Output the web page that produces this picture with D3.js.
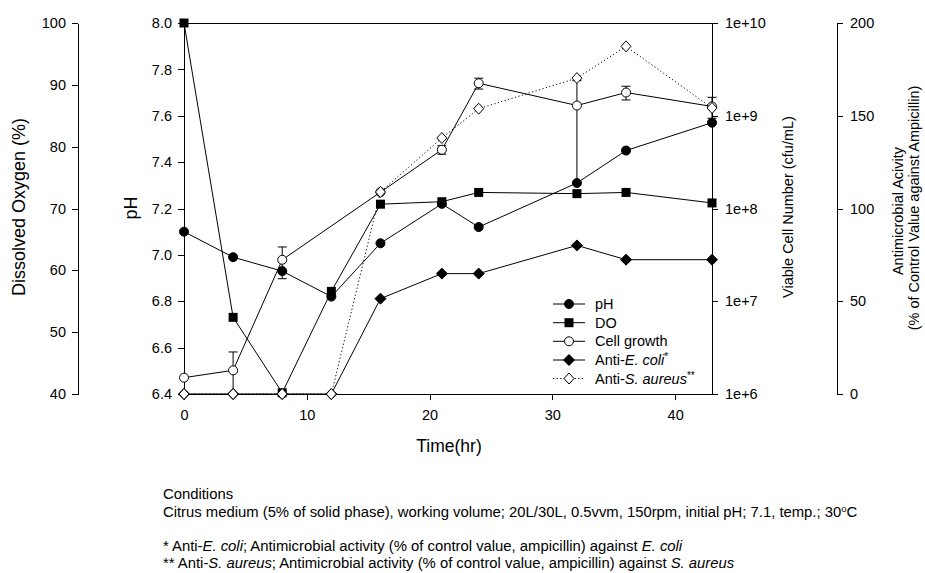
<!DOCTYPE html>
<html>
<head>
<meta charset="utf-8">
<script src="https://cdn.jsdelivr.net/npm/d3@7"></script>
<style>
  html, body { margin: 0; padding: 0; background: #fff; }
  svg { display: block; font-family: Arial, "Liberation Sans", sans-serif; }
  .axis path, .axis line { stroke: #000; stroke-width: 1; shape-rendering: crispEdges; }
  .axis text { fill: #000; font-size: 14.5px; }
</style>
</head>
<body>
<svg id="chart" width="925" height="573"></svg>
<script>
// ---------------- DATA ----------------
const time = [0, 4, 8, 12, 16, 21, 24, 32, 36, 43];
const pH = [7.10, 6.99, 6.93, 6.82, 7.05, 7.22, 7.12, 7.31, 7.45, 7.57];
const dissolvedOxygen = [100, 52.4, 40.2, 56.6, 70.7, 71.1, 72.6, 72.4, 72.6, 70.9];
const cellTime = [0, 4, 8, 16, 21, 24, 32, 36, 43];
const cellGrowth = [1.5e6, 1.8e6, 2.8e7, 1.5e8, 4.3e8, 2.24e9, 1.29e9, 1.78e9, 1.26e9];
const cellGrowthSD = [0, 1.04e6, 1.05e7, 0, 0.45e8, 0.3e9, 1.1e9, 0.3e9, 0.32e9];
const antiEcoli = [0, 0, 0, 0, 51.4, 64.9, 64.9, 80.1, 72.4, 72.4];
const antiSaureus = [0, 0, 0, 0, 108.9, 138.0, 153.8, 170.3, 187.4, 154.2];

const timeTicks = [0, 10, 20, 30, 40];
const doTicks = [40, 50, 60, 70, 80, 90, 100];
const phTicks = [6.4, 6.6, 6.8, 7.0, 7.2, 7.4, 7.6, 7.8, 8.0];
const cellTicks = [1e6, 1e7, 1e8, 1e9, 1e10];
const antiTicks = [0, 50, 100, 150, 200];

const legendLabels = [
  {key: "pH", parts: [["pH", false]]},
  {key: "DO", parts: [["DO", false]]},
  {key: "cell", parts: [["Cell growth", false]]},
  {key: "ecoli", parts: [["Anti-", false], ["E. coli", true]], sup: "*"},
  {key: "saureus", parts: [["Anti-", false], ["S. aureus", true]], sup: "**"}
];

// ---------------- LAYOUT ----------------
const svg = d3.select("#chart");
const plotL = 184, plotR = 712, plotT = 23, plotB = 394;

const x = d3.scaleLinear().domain([0, 43]).range([plotL, plotR]);
const yPH = d3.scaleLinear().domain([6.4, 8.0]).range([plotB, plotT]);
const yDO = d3.scaleLinear().domain([40, 100]).range([plotB, plotT]);
const yCell = d3.scaleLog().domain([1e6, 1e10]).range([plotB, plotT]);
const yAnti = d3.scaleLinear().domain([0, 200]).range([plotB, plotT]);

// frame top line
svg.append("line").attr("x1", plotL).attr("x2", plotR).attr("y1", plotT).attr("y2", plotT)
  .attr("stroke", "#000").attr("shape-rendering", "crispEdges");

// axes
svg.append("g").attr("class", "axis").attr("transform", `translate(0,${plotB})`)
  .call(d3.axisBottom(x).tickValues(timeTicks).tickSize(6).tickSizeOuter(0).tickPadding(10).tickFormat(d3.format("d")));

svg.append("g").attr("class", "axis").attr("transform", `translate(78,0)`)
  .call(d3.axisLeft(yDO).tickValues(doTicks).tickSize(6).tickSizeOuter(0).tickPadding(6).tickFormat(d3.format("d")));

svg.append("g").attr("class", "axis").attr("transform", `translate(${plotL},0)`)
  .call(d3.axisLeft(yPH).tickValues(phTicks).tickSize(6).tickSizeOuter(0).tickPadding(6).tickFormat(d3.format(".1f")));

svg.append("g").attr("class", "axis").attr("transform", `translate(${plotR},0)`)
  .call(d3.axisRight(yCell).tickValues(cellTicks).tickSize(6).tickSizeOuter(0).tickPadding(7)
    .tickFormat(d => "1e+" + Math.round(Math.log10(d))));

svg.append("g").attr("class", "axis").attr("transform", `translate(837,0)`)
  .call(d3.axisRight(yAnti).tickValues(antiTicks).tickSize(6).tickSizeOuter(0).tickPadding(7).tickFormat(d3.format("d")));

// axis titles
function vtitle(xp, yp, txt, size) {
  svg.append("text").attr("transform", `translate(${xp},${yp}) rotate(-90)`)
    .attr("text-anchor", "middle").attr("font-size", size).attr("fill", "#000").text(txt);
}
vtitle(25, 207, "Dissolved Oxygen (%)", "18px");
vtitle(137, 208, "pH", "18px");
vtitle(793, 207, "Viable Cell Number (cfu/mL)", "14.5px");
vtitle(903, 211, "Antimicrobial Acivity", "14.5px");
vtitle(919, 208, "(% of Control Value against Ampicillin)", "14.5px");
svg.append("text").attr("x", 449).attr("y", 452).attr("text-anchor", "middle")
  .attr("font-size", "17.5px").attr("fill", "#000").text("Time(hr)");

// ---------------- MARKERS ----------------
function drawMarker(g, type, cx, cy) {
  if (type === "pH") {
    g.append("circle").attr("cx", cx).attr("cy", cy).attr("r", 4.5).attr("fill", "#000").attr("stroke", "#000");
  } else if (type === "DO") {
    g.append("rect").attr("x", cx - 4.5).attr("y", cy - 4.5).attr("width", 9).attr("height", 9).attr("fill", "#000");
  } else if (type === "cell") {
    g.append("circle").attr("cx", cx).attr("cy", cy).attr("r", 4.5).attr("fill", "#fff").attr("stroke", "#000");
  } else if (type === "ecoli") {
    g.append("path").attr("d", `M${cx},${cy - 5.5}L${cx + 5.5},${cy}L${cx},${cy + 5.5}L${cx - 5.5},${cy}Z`)
      .attr("fill", "#000").attr("stroke", "#000");
  } else if (type === "saureus") {
    g.append("path").attr("d", `M${cx},${cy - 5.5}L${cx + 5},${cy}L${cx},${cy + 5.5}L${cx - 5},${cy}Z`)
      .attr("fill", "#fff").attr("stroke", "#000");
  }
}

function drawSeries(xs, ys, yScale, dash) {
  const g = svg.append("g");
  const pts = xs.map((t, i) => [x(t), yScale(ys[i])]);
  g.append("path").attr("d", d3.line()(pts)).attr("fill", "none").attr("stroke", "#000")
    .attr("stroke-width", 1).attr("stroke-dasharray", dash || null);
  return {g, pts};
}

// pH
{
  const s = drawSeries(time, pH, yPH);
  s.pts.forEach(p => drawMarker(s.g, "pH", p[0], p[1]));
}
// DO
{
  const s = drawSeries(time, dissolvedOxygen, yDO);
  s.pts.forEach(p => drawMarker(s.g, "DO", p[0], p[1]));
}
// Cell growth with error bars
{
  const s = drawSeries(cellTime, cellGrowth, yCell);
  cellTime.forEach((t, i) => {
    const sd = cellGrowthSD[i];
    if (!sd) return;
    const cx = x(t);
    const hi = cellGrowth[i] + sd, lo = cellGrowth[i] - sd;
    const yHi = yCell(Math.min(hi, 1e10));
    const loClipped = lo < 1e6;
    const yLo = loClipped ? plotB : yCell(lo);
    s.g.append("line").attr("x1", cx).attr("x2", cx).attr("y1", yHi).attr("y2", yLo).attr("stroke", "#000");
    s.g.append("line").attr("x1", cx - 4.5).attr("x2", cx + 4.5).attr("y1", yHi).attr("y2", yHi).attr("stroke", "#000");
    if (!loClipped) s.g.append("line").attr("x1", cx - 4.5).attr("x2", cx + 4.5).attr("y1", yLo).attr("y2", yLo).attr("stroke", "#000");
  });
  s.pts.forEach(p => drawMarker(s.g, "cell", p[0], p[1]));
}
// Anti-E. coli
{
  const s = drawSeries(time, antiEcoli, yAnti);
  s.pts.forEach(p => drawMarker(s.g, "ecoli", p[0], p[1]));
}
// Anti-S. aureus (dotted)
{
  const s = drawSeries(time, antiSaureus, yAnti, "1.2,2.4");
  s.pts.forEach(p => drawMarker(s.g, "saureus", p[0], p[1]));
}

// ---------------- LEGEND ----------------
const legendY = [304, 322.7, 341.3, 360, 378.5];
legendLabels.forEach((item, i) => {
  const g = svg.append("g");
  const y = legendY[i];
  g.append("line").attr("x1", 553).attr("x2", 585).attr("y1", y).attr("y2", y)
    .attr("stroke", "#000").attr("stroke-dasharray", item.key === "saureus" ? "1.2,2.4" : null);
  drawMarker(g, item.key, 569, y);
  const t = g.append("text").attr("x", 595).attr("y", y + 5).attr("font-size", "14.5px").attr("fill", "#000");
  item.parts.forEach(([txt, it]) => t.append("tspan").attr("font-style", it ? "italic" : "normal").text(txt));
  if (item.sup) t.append("tspan").attr("font-size", "10px").attr("dy", -5).text(item.sup);
});

// ---------------- NOTES ----------------
const notes = [
  {y: 499, parts: [["Conditions"]]},
  {y: 517, parts: [["Citrus medium (5% of solid phase), working volume; 20L/30L, 0.5vvm, 150rpm, initial pH; 7.1, temp.; 30"], ["o", "sup"], ["C", "unsup"]]},
  {y: 551, parts: [["* Anti-"], ["E. coli", "it"], ["; Antimicrobial activity (% of control value, ampicillin) against "], ["E. coli", "it"]]},
  {y: 568, parts: [["** Anti-"], ["S. aureus", "it"], ["; Antimicrobial activity (% of control value, ampicillin) against "], ["S. aureus", "it"]]}
];
const noteGroups = notes.map(n => {
  const g = svg.append("g");
  const t = g.append("text").attr("x", 0).attr("y", 0).attr("font-size", "15px").attr("fill", "#000");
  n.parts.forEach(([txt, style]) => {
    const ts = t.append("tspan").text(txt);
    if (style === "it") ts.attr("font-style", "italic");
    if (style === "sup") ts.attr("font-size", "9.5px").attr("dy", -5.5);
    if (style === "unsup") ts.attr("dy", 5.5);
  });
  return {g, t, n};
});
// condensed look of the original: one horizontal factor so line 2 spans 163 -> 858
const sx = 695 / noteGroups[1].t.node().getBBox().width;
noteGroups.forEach(({g, n}) => g.attr("transform", `translate(163,${n.y}) scale(${sx},1)`));
</script>
</body>
</html>
